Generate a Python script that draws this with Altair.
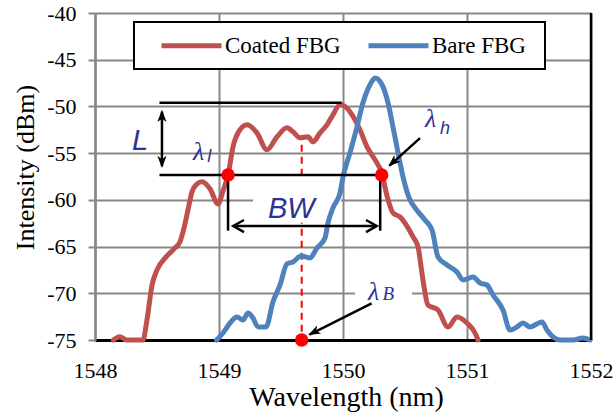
import altair as alt
import pandas as pd

# ---------------- data ----------------
coated_x = [1548.148, 1548.200, 1548.256, 1548.306, 1548.387, 1548.419, 1548.460, 1548.500,
            1548.573, 1548.645, 1548.685, 1548.718, 1548.750, 1548.782, 1548.823, 1548.863,
            1548.927, 1548.992, 1549.032, 1549.073, 1549.113, 1549.169, 1549.226, 1549.306,
            1549.387, 1549.468, 1549.548, 1549.597, 1549.653, 1549.718, 1549.758, 1549.815,
            1549.871, 1549.919, 1549.976, 1550.016, 1550.073, 1550.137, 1550.194, 1550.258,
            1550.315, 1550.355, 1550.403, 1550.460, 1550.565, 1550.605, 1550.645, 1550.685,
            1550.766, 1550.847, 1550.919, 1551.000, 1551.065, 1551.089]
coated_y = [-75.0, -74.65, -75.0, -75.0, -75.0, -72.86, -69.11, -67.50,
            -66.11, -65.15, -64.50, -63.00, -61.07, -59.15, -58.29, -58.07,
            -58.82, -60.43, -59.04, -57.33, -54.33, -52.50, -51.97, -52.83,
            -54.65, -53.25, -52.29, -52.72, -53.36, -53.25, -53.79, -52.83,
            -51.97, -50.90, -49.83, -50.01, -50.90, -52.50, -54.33, -55.72,
            -57.22, -59.58, -61.40, -61.83, -63.97, -65.04, -68.58, -71.26,
            -71.79, -73.61, -72.54, -73.18, -74.25, -75.0]

bare_x = [1548.981, 1549.032, 1549.089, 1549.145, 1549.194, 1549.234, 1549.274, 1549.315,
          1549.379, 1549.435, 1549.492, 1549.548, 1549.597, 1549.661, 1549.734, 1549.790,
          1549.855, 1549.879, 1549.919, 1549.976, 1550.000, 1550.056, 1550.113, 1550.161,
          1550.218, 1550.258, 1550.315, 1550.363, 1550.403, 1550.444, 1550.484, 1550.540,
          1550.581, 1550.661, 1550.718, 1550.766, 1550.839, 1550.919, 1550.968, 1551.048,
          1551.105, 1551.161, 1551.210, 1551.290, 1551.347, 1551.403, 1551.452, 1551.508,
          1551.605, 1551.645, 1551.694, 1551.750, 1551.855, 1551.935, 1551.992]
bare_y = [-75.0, -74.25, -73.18, -72.54, -72.86, -72.11, -72.65, -73.61,
          -73.61, -70.93, -69.11, -66.86, -66.65, -66.00, -66.22, -65.15,
          -64.08, -62.47, -60.86, -59.25, -57.54, -54.97, -52.18, -49.61,
          -47.68, -46.96, -47.68, -49.61, -52.18, -54.97, -57.54, -60.00,
          -60.86, -62.15, -63.22, -66.11, -66.97, -67.72, -68.58, -68.25,
          -68.90, -69.11, -70.18, -71.79, -73.93, -73.61, -73.18, -73.61,
          -73.07, -73.93, -74.68, -75.0, -75.0, -74.79, -75.0]

series_names = ["Coated FBG", "Bare FBG"]
series_colors = ["#C0504D", "#4F81BD"]

x_ticks = [1548, 1549, 1550, 1551, 1552]
y_ticks = [-75, -70, -65, -60, -55, -50, -45, -40]

# annotation values (data coordinates)
lam_l = [1549.073, -57.33]
lam_h = [1550.312, -57.33]
lam_B = [1549.667, -75.0]
seg_x = [1548.52, 1548.52, 1549.073, 1550.300, 1548.540, 1549.115, 1550.621, 1550.231]
seg_y = [-49.6, -57.33, -57.33, -57.33, -50.56, -62.8, -53.39, -71.07]
seg_x2 = [1549.989, 1550.312, 1549.073, 1550.300, 1548.540, 1550.272, 1550.375, 1549.730]
seg_y2 = [-49.6, -57.33, -63.3, -63.3, -56.40, -62.8, -56.33, -74.42]

head_x = [1548.540, 1548.540, 1550.365, 1549.720]
head_y = [-50.36, -56.60, -56.43, -74.47]
head_angle = [0, 180, 228, 243]
open_head_x = [1549.115, 1550.272]
open_head_y = [-62.8, -62.8]
open_head_angle = [270, 90]

box_x = [1549.274, 1550.097]
box_x2 = [1549.984, 1550.556]
box_y = [-57.7, -67.7]
box_y2 = [-62.45, -71.35]

sans_text = ["L", "BW", "l", "h"]
sans_x = [1548.298, 1549.395, 1548.905, 1550.782]
sans_y = [-54.65, -61.9, -56.0, -53.0]
sans_size = [29, 29, 18, 18]

serif_text = ["λ", "λ", "λ", "B"]
serif_x = [1548.790, 1550.661, 1550.202, 1550.318]
serif_y = [-55.7, -52.2, -70.7, -70.7]
serif_size = [26, 26, 26, 19]

# ---------------- tables ----------------
lines_df = pd.concat([
    pd.DataFrame({"x": coated_x, "y": coated_y, "s": series_names[0], "o": range(len(coated_x))}),
    pd.DataFrame({"x": bare_x, "y": bare_y, "s": series_names[1], "o": range(len(bare_x))}),
])
seg_df = pd.DataFrame({"x": seg_x, "y": seg_y, "x2": seg_x2, "y2": seg_y2})
head_df = pd.DataFrame({"x": head_x, "y": head_y, "a": head_angle})
open_df = pd.DataFrame({"x": open_head_x, "y": open_head_y, "a": open_head_angle})
dots_df = pd.DataFrame({"x": [lam_l[0], lam_h[0], lam_B[0]], "y": [lam_l[1], lam_h[1], lam_B[1]]})
dash_df = pd.DataFrame({"x": [lam_B[0]], "y": [-54.1], "y2": [-75.0]})
box_df = pd.DataFrame({"x": box_x, "x2": box_x2, "y": box_y, "y2": box_y2})
border_df = pd.DataFrame({"x": [1552], "y": [-40], "y2": [-75]})
sans_df = pd.DataFrame({"t": sans_text, "x": sans_x, "y": sans_y, "fs": sans_size})
serif_df = pd.DataFrame({"t": serif_text, "x": serif_x, "y": serif_y, "fs": serif_size})

xs = alt.Scale(domain=[1548, 1552], nice=False, zero=False)
ys = alt.Scale(domain=[-75, -40], nice=False, zero=False)
GRID = "#878787"
NAVY = "#2E3192"
SERIF = "Liberation Serif"

x_axis = alt.Axis(values=x_ticks, title="Wavelength (nm)", grid=True, gridColor=GRID, gridWidth=2,
                  ticks=False, tickSize=0, domainColor="black", domainWidth=3,
                  labelFont=SERIF, labelFontSize=22, labelColor="black",
                  labelBaseline="alphabetic", labelPadding=37, labelFlush=False,
                  labelExpr="'' + datum.value",
                  titleFont=SERIF, titleFontSize=28, titleFontWeight="normal",
                  titleColor="black", titleBaseline="alphabetic", titleAnchor="middle",
                  titleX=251, titleY=65)
y_axis = alt.Axis(values=y_ticks, title="Intensity (dBm)", grid=True, gridColor=GRID, gridWidth=2,
                  ticks=True, tickSize=7, tickColor=GRID, tickWidth=2,
                  domainColor=GRID, domainWidth=2.5,
                  labelFont=SERIF, labelFontSize=22, labelColor="black",
                  labelBaseline="middle", labelPadding=12, labelFlush=False,
                  labelExpr="'' + datum.value",
                  titleFont=SERIF, titleFontSize=26, titleFontWeight="normal",
                  titleColor="black", titleAngle=-90, titleBaseline="middle", titleAlign="center",
                  titleX=-70, titleY=154)


def X():
    return alt.X("x:Q", scale=xs, axis=x_axis, title="Wavelength (nm)")


def Y():
    return alt.Y("y:Q", scale=ys, axis=y_axis, title="Intensity (dBm)")


dash = alt.Chart(dash_df).mark_rule(color="#FF0000", strokeWidth=2, strokeDash=[7, 5]).encode(
    x=X(), y=Y(), y2="y2:Q")

boxes = alt.Chart(box_df).mark_rect(color="white").encode(x=X(), x2="x2:Q", y=Y(), y2="y2:Q")

legend = alt.Legend(
    orient="none", legendX=39, legendY=9, direction="horizontal",
    title="\u00a0", titleOrient="right", titlePadding=8, titleFontSize=10,
    symbolType="M-1,0 L5,0", symbolStrokeWidth=5, symbolSize=400,
    labelFont=SERIF, labelFontSize=23, labelColor="black", labelOffset=41,
    columnPadding=11, padding=11, symbolOffset=14,
    strokeColor="black", fillColor="white", labelLimit=300,
)

lines = alt.Chart(lines_df).mark_line(strokeWidth=5, interpolate="monotone", strokeCap="round",
                                      strokeJoin="round").encode(
    x=X(), y=Y(), order="o:Q",
    color=alt.Color("s:N", scale=alt.Scale(domain=series_names, range=series_colors), legend=legend),
)

border = alt.Chart(border_df).mark_rule(color="black", strokeWidth=2.5).encode(x=X(), y=Y(), y2="y2:Q")

segs = alt.Chart(seg_df).mark_rule(color="black", strokeWidth=2.5).encode(
    x=X(), y=Y(), x2="x2:Q", y2="y2:Q")

heads = alt.Chart(head_df).mark_point(shape="M0,0 L0.75,2 L0,1.45 L-0.75,2 Z", filled=True,
                                      color="black", size=150, opacity=1).encode(
    x=X(), y=Y(), angle=alt.Angle("a:Q", scale=None))

open_heads = alt.Chart(open_df).mark_point(shape="M-0.9,1.6 L0,0 L0.9,1.6", filled=False,
                                           color="black", strokeWidth=2.5, size=180, opacity=1).encode(
    x=X(), y=Y(), angle=alt.Angle("a:Q", scale=None))

dots = alt.Chart(dots_df).mark_circle(color="#FF0000", size=180, opacity=1).encode(x=X(), y=Y())

sans_lbl = alt.Chart(sans_df).mark_text(font="Liberation Sans", fontStyle="italic", color=NAVY,
                                        align="left", baseline="alphabetic").encode(
    x=X(), y=Y(), text="t:N", size=alt.Size("fs:Q", scale=None))

serif_lbl = alt.Chart(serif_df).mark_text(font=SERIF, fontStyle="italic", color=NAVY,
                                          align="left", baseline="alphabetic").encode(
    x=X(), y=Y(), text="t:N", size=alt.Size("fs:Q", scale=None))

chart = alt.layer(dash, boxes, lines, border, segs, heads, open_heads, dots, sans_lbl, serif_lbl).properties(
    width=496, height=327,
    padding={"left": 95, "top": 13, "right": 25, "bottom": 80},
    autosize=alt.AutoSizeParams(type="none"),
    background="white",
).configure_view(stroke=None).configure_axis(
    labelFont=SERIF, titleFont=SERIF
).configure_legend(strokeWidth=2)

chart.save("out.html", embed_options={"renderer": "svg", "actions": False})
